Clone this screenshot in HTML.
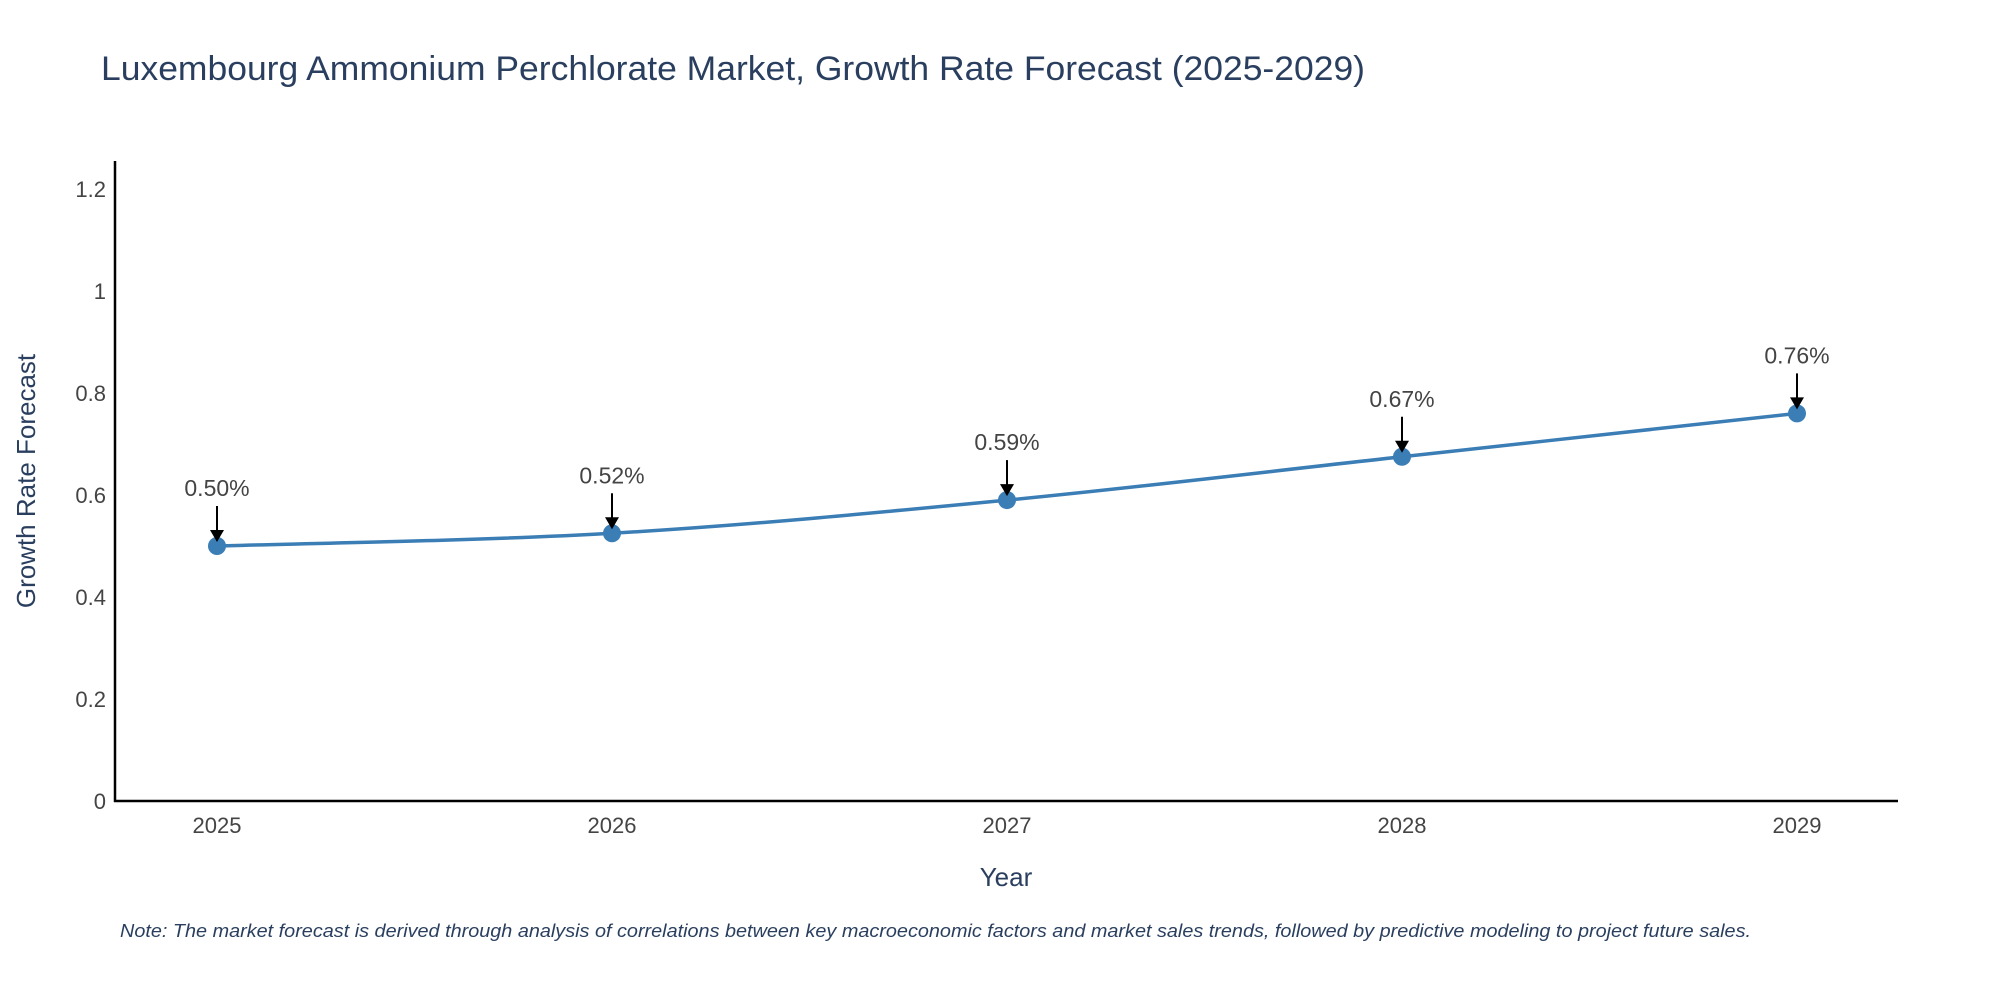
<!DOCTYPE html>
<html><head><meta charset="utf-8"><style>
body{margin:0;background:#fff;}
svg text{font-family:"Liberation Sans",sans-serif;}
</style></head><body>
<svg id="chart" width="2000" height="1000" xmlns="http://www.w3.org/2000/svg">
<text x="101" y="80" font-size="34" fill="#2a3f5f" textLength="1264" lengthAdjust="spacingAndGlyphs">Luxembourg Ammonium Perchlorate Market, Growth Rate Forecast (2025-2029)</text>
<g id="yticks"></g>
<g id="xticks"></g>
<line x1="115" y1="161" x2="115" y2="802" stroke="#000" stroke-width="2.5"/>
<line x1="114" y1="801" x2="1898" y2="801" stroke="#000" stroke-width="2.5"/>
<path id="line" fill="none" stroke="#3b7db5" stroke-width="3.5"/>
<g id="points"></g>
<g id="annots"></g>
<text x="1006" y="886" font-size="26" fill="#2a3f5f" text-anchor="middle">Year</text>
<text x="0" y="0" font-size="26" fill="#2a3f5f" text-anchor="middle" transform="translate(35,481) rotate(-90)">Growth Rate Forecast</text>
<text x="120" y="937" font-size="18.5" font-style="italic" fill="#2a3f5f" textLength="1631" lengthAdjust="spacingAndGlyphs">Note: The market forecast is derived through analysis of correlations between key macroeconomic factors and market sales trends, followed by predictive modeling to project future sales.</text>
</svg>
<script>
const years = [2025, 2026, 2027, 2028, 2029];
const values = [0.50, 0.525, 0.59, 0.675, 0.76];
const labels = ["0.50%", "0.52%", "0.59%", "0.67%", "0.76%"];
const yTicks = [0, 0.2, 0.4, 0.6, 0.8, 1, 1.2];
const yTickLabels = ["0", "0.2", "0.4", "0.6", "0.8", "1", "1.2"];

const NS = "http://www.w3.org/2000/svg";
function xs(y){ return 217 + (y - 2025) * 395; }
function ys(v){ return 801 - v * 510; }
function mk(tag, attrs, parent, txt){
  const e = document.createElementNS(NS, tag);
  for (const k in attrs) e.setAttribute(k, attrs[k]);
  if (txt !== undefined) e.textContent = txt;
  parent.appendChild(e); return e;
}
const yt = document.getElementById('yticks');
yTicks.forEach((t, i) => {
  const e = mk('text', {x: 106, y: ys(t) + 8, 'font-size': 22, fill: '#444', 'text-anchor': 'end'}, yt, yTickLabels[i]);
  
  
});
const xt = document.getElementById('xticks');
years.forEach(y => {
  const e = mk('text', {x: xs(y), y: 833, 'font-size': 22, fill: '#444', 'text-anchor': 'middle'}, xt, String(y));
  
  
});
const pts = years.map((y, i) => [xs(y), ys(values[i])]);
let d = `M${pts[0][0]},${pts[0][1]}`;
for (let i = 0; i < pts.length - 1; i++) {
  const p0 = pts[i-1] || pts[i], p1 = pts[i], p2 = pts[i+1], p3 = pts[i+2] || p2;
  const t = 0.5/3;
  const c1 = [p1[0] + (p2[0]-p0[0])*t, p1[1] + (p2[1]-p0[1])*t];
  const c2 = [p2[0] - (p3[0]-p1[0])*t, p2[1] - (p3[1]-p1[1])*t];
  d += ` C${c1[0]},${c1[1]} ${c2[0]},${c2[1]} ${p2[0]},${p2[1]}`;
}
document.getElementById('line').setAttribute('d', d);
const pg = document.getElementById('points');
const ag = document.getElementById('annots');
pts.forEach((p, i) => {
  const c = mk('circle', {cx: p[0], cy: p[1], r: 9, fill: '#3b7db5'}, pg);
  
  
  const l = mk('line', {x1: p[0], y1: p[1] - 40, x2: p[0], y2: p[1] - 12, stroke: '#000', 'stroke-width': 2}, ag);
  
  
  const h = mk('polygon', {points: `${p[0]-7},${p[1]-16} ${p[0]+7},${p[1]-16} ${p[0]},${p[1]-4}`, fill: '#000'}, ag);
  
  
  const tx = mk('text', {x: p[0], y: p[1] - 50, 'font-size': 23, fill: '#444', 'text-anchor': 'middle'}, ag, labels[i]);
  
  
});
</script>
</body></html>
